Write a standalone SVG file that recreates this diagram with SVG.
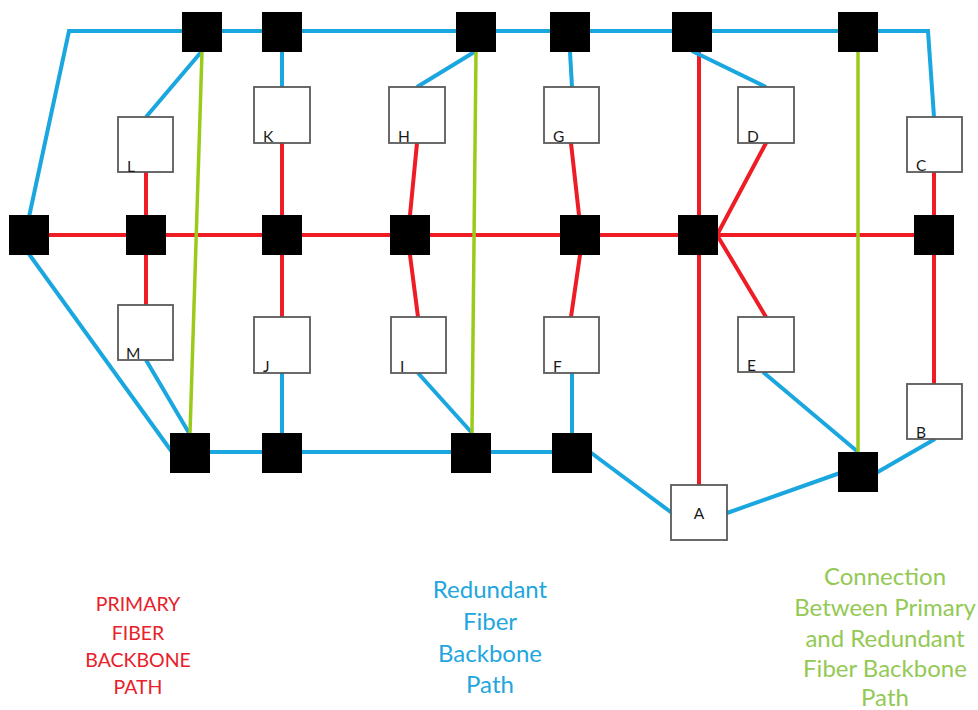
<svg xmlns="http://www.w3.org/2000/svg" width="978" height="710" viewBox="0 0 978 710">
<style>
.r{stroke:#EE1C25;stroke-width:4;fill:none;stroke-linecap:round}
.b{stroke:#1AA7DF;stroke-width:4;fill:none;stroke-linejoin:miter}
.g{stroke:#9BCB1A;stroke-width:3.5;fill:none}
.sw{fill:#000}
.bx{fill:#fff;stroke:#5a5a5a;stroke-width:1.8}
.lb{font-family:Lato,"Liberation Sans",sans-serif;font-size:15.5px;fill:#1a1a1a}
.lg{font-family:Lato,"Liberation Sans",sans-serif;text-anchor:middle}
</style>
<rect width="978" height="710" fill="#fff"/>
<g id="connectors">
<g id="primary">
<line class="r" x1="29" y1="235" x2="934" y2="235"/>
<line class="r" x1="146" y1="172" x2="146" y2="215"/>
<line class="r" x1="146" y1="255" x2="146" y2="305"/>
<line class="r" x1="282" y1="143" x2="282" y2="215"/>
<line class="r" x1="282" y1="255" x2="282" y2="317"/>
<line class="r" x1="417" y1="143" x2="410" y2="215"/>
<line class="r" x1="410" y1="255" x2="418" y2="317"/>
<line class="r" x1="571" y1="143" x2="579" y2="215"/>
<line class="r" x1="580" y1="255" x2="571" y2="317"/>
<line class="r" x1="699" y1="52" x2="699" y2="485"/>
<line class="r" x1="766" y1="143" x2="717" y2="235"/>
<line class="r" x1="717" y1="235" x2="766" y2="317"/>
<line class="r" x1="934" y1="172" x2="934" y2="215"/>
<line class="r" x1="934" y1="255" x2="934" y2="384"/>
</g>
<g id="redundant">
<polyline class="b" points="29,217 69,31 928,31 934,117"/>
<line class="b" x1="29" y1="254" x2="172" y2="452"/>
<line class="b" x1="190" y1="452" x2="572" y2="452"/>
<line class="b" x1="590" y1="452" x2="672" y2="513"/>
<line class="b" x1="727" y1="513" x2="840" y2="473"/>
<line class="b" x1="876" y1="473" x2="935" y2="439"/>
<line class="b" x1="146" y1="117" x2="202" y2="51"/>
<line class="b" x1="282" y1="52" x2="282" y2="87"/>
<line class="b" x1="417" y1="87" x2="476" y2="51"/>
<line class="b" x1="570" y1="52" x2="572" y2="87"/>
<line class="b" x1="692" y1="51" x2="766" y2="87"/>
<line class="b" x1="146" y1="360" x2="189" y2="433"/>
<line class="b" x1="282" y1="373" x2="282" y2="433"/>
<line class="b" x1="418" y1="373" x2="472" y2="433"/>
<line class="b" x1="572" y1="373" x2="572" y2="433"/>
<line class="b" x1="763" y1="372" x2="858" y2="452"/>
</g>
<g id="links">
<line class="g" x1="202" y1="52" x2="190" y2="433"/>
<line class="g" x1="476" y1="52" x2="472" y2="433"/>
<line class="g" x1="858" y1="52" x2="858" y2="452"/>
</g>
</g>
<g id="sw-t1"><rect class="sw" x="182" y="12" width="40" height="40"/></g>
<g id="sw-t2"><rect class="sw" x="262" y="12" width="40" height="40"/></g>
<g id="sw-t3"><rect class="sw" x="456" y="12" width="40" height="40"/></g>
<g id="sw-t4"><rect class="sw" x="550" y="12" width="40" height="40"/></g>
<g id="sw-t5"><rect class="sw" x="672" y="12" width="40" height="40"/></g>
<g id="sw-t6"><rect class="sw" x="838" y="12" width="40" height="40"/></g>
<g id="sw-m1"><rect class="sw" x="9" y="215" width="40" height="40"/></g>
<g id="sw-m2"><rect class="sw" x="126" y="215" width="40" height="40"/></g>
<g id="sw-m3"><rect class="sw" x="262" y="215" width="40" height="40"/></g>
<g id="sw-m4"><rect class="sw" x="390" y="215" width="40" height="40"/></g>
<g id="sw-m5"><rect class="sw" x="560" y="215" width="40" height="40"/></g>
<g id="sw-m6"><rect class="sw" x="678" y="215" width="40" height="40"/></g>
<g id="sw-m7"><rect class="sw" x="914" y="215" width="40" height="40"/></g>
<g id="sw-b1"><rect class="sw" x="170" y="433" width="40" height="40"/></g>
<g id="sw-b2"><rect class="sw" x="262" y="433" width="40" height="40"/></g>
<g id="sw-b3"><rect class="sw" x="451" y="433" width="40" height="40"/></g>
<g id="sw-b4"><rect class="sw" x="552" y="433" width="40" height="40"/></g>
<g id="sw-b5"><rect class="sw" x="838" y="452" width="40" height="40"/></g>
<g id="node-L"><rect class="bx" x="118" y="117" width="55" height="55"/><text class="lb" x="127" y="172">L</text></g>
<g id="node-K"><rect class="bx" x="254" y="87" width="56" height="56"/><text class="lb" x="263" y="142">K</text></g>
<g id="node-H"><rect class="bx" x="389" y="87" width="56" height="56"/><text class="lb" x="398" y="142">H</text></g>
<g id="node-G"><rect class="bx" x="544" y="87" width="55" height="56"/><text class="lb" x="553" y="142">G</text></g>
<g id="node-D"><rect class="bx" x="738" y="87" width="56" height="56"/><text class="lb" x="747" y="142">D</text></g>
<g id="node-C"><rect class="bx" x="907" y="117" width="55" height="55"/><text class="lb" x="916" y="171">C</text></g>
<g id="node-M"><rect class="bx" x="118" y="305" width="55" height="55"/><text class="lb" x="126" y="359">M</text></g>
<g id="node-J"><rect class="bx" x="254" y="317" width="56" height="56"/><text class="lb" x="263" y="372">J</text></g>
<g id="node-I"><rect class="bx" x="391" y="317" width="55" height="56"/><text class="lb" x="400" y="372">I</text></g>
<g id="node-F"><rect class="bx" x="544" y="317" width="55" height="56"/><text class="lb" x="553" y="372">F</text></g>
<g id="node-E"><rect class="bx" x="738" y="317" width="56" height="55"/><text class="lb" x="747" y="371">E</text></g>
<g id="node-B"><rect class="bx" x="907" y="384" width="55" height="55"/><text class="lb" x="916" y="438">B</text></g>
<g id="node-A"><rect class="bx" x="671" y="485" width="56" height="55"/><text class="lb" x="699" y="519" text-anchor="middle">A</text></g>
<g id="legend-primary" class="lg" fill="#E8202A" font-size="19.5">
<text x="138" y="611">PRIMARY</text>
<text x="138" y="640">FIBER</text>
<text x="138" y="667">BACKBONE</text>
<text x="138" y="694">PATH</text>
</g>
<g id="legend-redundant" class="lg" fill="#22A6DD" font-size="24">
<text x="490" y="598">Redundant</text>
<text x="490" y="630">Fiber</text>
<text x="490" y="662">Backbone</text>
<text x="490" y="693">Path</text>
</g>
<g id="legend-connection" class="lg" fill="#93C954" font-size="24">
<text x="885" y="585">Connection</text>
<text x="885" y="616">Between Primary</text>
<text x="885" y="647">and Redundant</text>
<text x="885" y="677">Fiber Backbone</text>
<text x="885" y="706">Path</text>
</g>
</svg>
